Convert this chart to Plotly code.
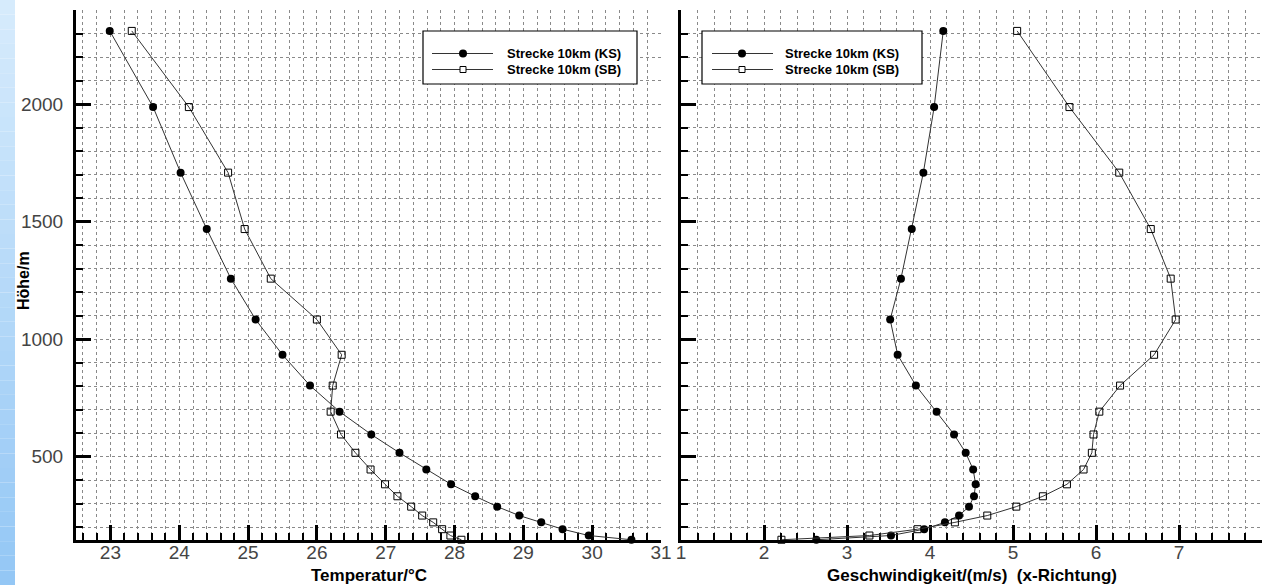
import plotly.graph_objects as go

# Model levels (height above ground, m) shared by all four profiles
heights = [2311, 1987, 1708, 1468, 1257, 1083, 933, 802, 691, 594,
           516, 445, 382, 331, 287, 249, 220, 191, 164, 146]

# Temperature profiles (°C)
temp_ks = [22.99, 23.62, 24.02, 24.40, 24.75, 25.11, 25.50, 25.90, 26.33, 26.79,
           27.20, 27.59, 27.95, 28.30, 28.62, 28.94, 29.26, 29.57, 29.95, 30.57]
temp_sb = [23.31, 24.14, 24.71, 24.95, 25.33, 26.00, 26.36, 26.23, 26.20, 26.35,
           26.56, 26.78, 26.99, 27.17, 27.37, 27.53, 27.69, 27.82, 27.94, 28.10]

# Wind speed profiles, x component (m/s)
u_ks = [4.16, 4.05, 3.92, 3.78, 3.65, 3.52, 3.61, 3.83, 4.08, 4.29,
        4.43, 4.52, 4.55, 4.53, 4.47, 4.35, 4.18, 3.93, 3.53, 2.63]
u_sb = [5.05, 5.68, 6.28, 6.66, 6.90, 6.96, 6.70, 6.29, 6.04, 5.97,
        5.95, 5.85, 5.65, 5.36, 5.04, 4.69, 4.30, 3.85, 3.27, 2.21]

name_ks = "Strecke 10km (KS)"
name_sb = "Strecke 10km (SB)"

temp_ticks = [23, 24, 25, 26, 27, 28, 29, 30, 31]
u_ticks = [1, 2, 3, 4, 5, 6, 7, 8]
height_ticks = [500, 1000, 1500, 2000]

title_temp = "Temperatur/°C"
title_u = "Geschwindigkeit/(m/s)  (x-Richtung)"
title_h = "Höhe/m"

W, H = 1267, 585


def fx(px):
    return px / W


def fy(py):
    return 1 - py / H


FONT = "Liberation Sans"
GRID = "#8a8a8a"

line_style = dict(color="#333333", width=1)
ks_marker = dict(symbol="circle", size=8, color="black")
sb_marker = dict(symbol="square-open", size=7, color="black", line=dict(width=1, color="black"))

fig = go.Figure()
for xs, ys, xa, ya, mk, nm in [
    (temp_ks, heights, "x", "y", ks_marker, name_ks),
    (temp_sb, heights, "x", "y", sb_marker, name_sb),
    (u_ks, heights, "x2", "y2", ks_marker, name_ks),
    (u_sb, heights, "x2", "y2", sb_marker, name_sb),
]:
    fig.add_trace(go.Scatter(
        x=xs, y=ys, xaxis=xa, yaxis=ya, mode="lines+markers",
        line=line_style, marker=mk, name=nm, showlegend=False, cliponaxis=False,
    ))


def axis_style(minor_step):
    return dict(
        showline=True, linewidth=3, linecolor="black", mirror=False,
        layer="below traces",
        ticks="inside", ticklen=15, tickwidth=3, tickcolor="black",
        showgrid=True, gridcolor=GRID, griddash="dot", gridwidth=1,
        zeroline=False, automargin=False,
        tickfont=dict(family=FONT, size=19, color="#444444"),
        minor=dict(tickmode="linear", tick0=0, dtick=minor_step, ticks="inside",
                   ticklen=7, tickwidth=1.5, tickcolor="black",
                   showgrid=True, gridcolor=GRID, griddash="dot", gridwidth=1),
    )


ydom = [45 / H, 575 / H]
yrange = [145, 2400]
fig.update_layout(
    width=W, height=H, autosize=False,
    margin=dict(l=0, r=0, t=0, b=0),
    paper_bgcolor="white", plot_bgcolor="white",
    xaxis=dict(axis_style(0.2), domain=[fx(76), fx(661)], range=[22.5, 31],
               tickmode="array", tickvals=temp_ticks, anchor="y", ticklabelstandoff=-7),
    xaxis2=dict(axis_style(0.2), domain=[fx(681), fx(1262)], range=[1, 8],
                tickmode="array", tickvals=u_ticks, anchor="y2", ticklabelstandoff=-7),
    yaxis=dict(axis_style(100), domain=ydom, range=yrange,
               tickmode="array", tickvals=height_ticks, anchor="x", ticklabelstandoff=6),
    yaxis2=dict(axis_style(100), domain=ydom, range=yrange, matches="y",
                tickmode="array", tickvals=height_ticks, anchor="x2", showticklabels=False),
)

shapes = []

# soft blue band along the left edge of the page
n_band = 40
top_rgb, bot_rgb = (214, 235, 252), (148, 199, 245)
for i in range(n_band):
    t = i / (n_band - 1)
    c = tuple(round(a + (b - a) * t) for a, b in zip(top_rgb, bot_rgb))
    shapes.append(dict(type="rect", xref="paper", yref="paper", layer="below",
                       x0=0, x1=fx(15), y0=1 - i / n_band, y1=1 - (i + 1) / n_band,
                       fillcolor="rgb(%d,%d,%d)" % c, line=dict(width=0)))

annotations = []

# legend boxes, one per panel
for box_l, box_r, ln0, ln1, mx, tx in [(423, 637, 432, 493, 463, 505),
                                       (702, 922, 712, 773, 742, 783)]:
    shapes.append(dict(type="rect", xref="paper", yref="paper", layer="above",
                       x0=fx(box_l), x1=fx(box_r), y0=fy(84), y1=fy(31),
                       fillcolor="white", line=dict(color="black", width=1.2)))
    for row_y, nm, kind in [(53.5, name_ks, "ks"), (69.5, name_sb, "sb")]:
        shapes.append(dict(type="line", xref="paper", yref="paper", layer="above",
                           x0=fx(ln0), x1=fx(ln1), y0=fy(row_y), y1=fy(row_y),
                           line=dict(color="#333333", width=1)))
        if kind == "ks":
            shapes.append(dict(type="circle", xref="paper", yref="paper", layer="above",
                               x0=fx(mx - 4), x1=fx(mx + 4),
                               y0=fy(row_y + 4), y1=fy(row_y - 4),
                               fillcolor="black", line=dict(color="black", width=0)))
        else:
            shapes.append(dict(type="rect", xref="paper", yref="paper", layer="above",
                               x0=fx(mx - 3), x1=fx(mx + 3),
                               y0=fy(row_y + 3), y1=fy(row_y - 3),
                               fillcolor="white", line=dict(color="black", width=1)))
        annotations.append(dict(xref="paper", yref="paper", x=fx(tx), y=fy(row_y),
                                xanchor="left", yanchor="middle", showarrow=False,
                                text=nm, font=dict(family=FONT, size=13, color="black",
                                                   weight="bold")))

# axis titles
annotations += [
    dict(xref="paper", yref="paper", x=fx((76 + 661) / 2), y=fy(575),
         xanchor="center", yanchor="middle", showarrow=False, text=title_temp,
         font=dict(family=FONT, size=17, color="black", weight="bold")),
    dict(xref="paper", yref="paper", x=fx((681 + 1262) / 2), y=fy(575),
         xanchor="center", yanchor="middle", showarrow=False, text=title_u,
         font=dict(family=FONT, size=17, color="black", weight="bold")),
    dict(xref="paper", yref="paper", x=fx(23), y=fy(281),
         xanchor="center", yanchor="middle", showarrow=False, text=title_h,
         textangle=-90, font=dict(family=FONT, size=16, color="black", weight="bold")),
]

fig.update_layout(shapes=shapes, annotations=annotations)
fig.write_html("out.html")
